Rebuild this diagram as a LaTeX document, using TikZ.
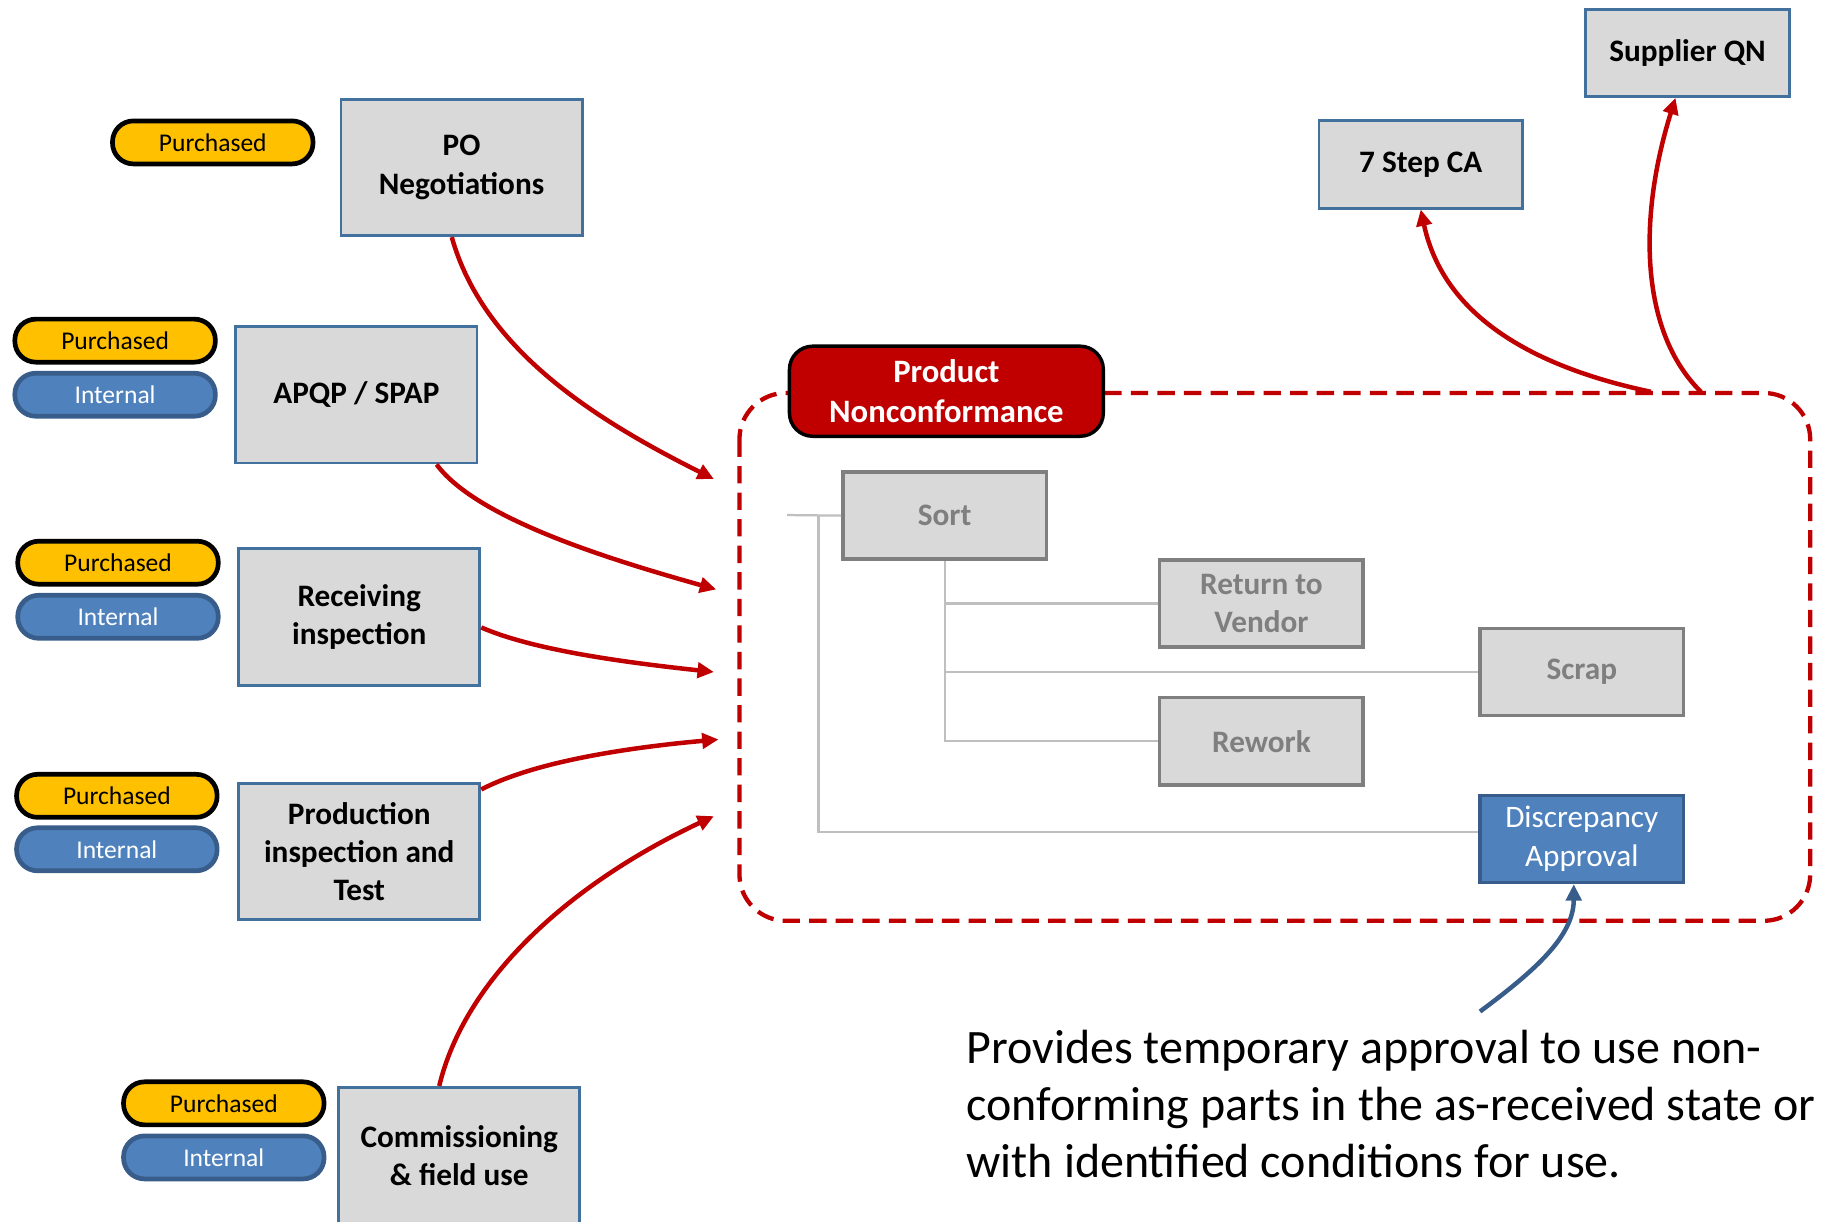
\documentclass[tikz,border=0pt]{standalone}
\usepackage{fontspec}
\setmainfont{Carlito}
\usetikzlibrary{arrows.meta}
\definecolor{boxgray}{HTML}{D9D9D9}
\definecolor{boxedge}{HTML}{41719C}
\definecolor{pillyellow}{HTML}{FFC000}
\definecolor{intblue}{HTML}{4F81BD}
\definecolor{intedge}{HTML}{385D8A}
\definecolor{ncred}{HTML}{C00000}
\definecolor{fadetext}{HTML}{7F7F7F}
\definecolor{fadeline}{HTML}{BFBFBF}

\begin{document}
\begin{tikzpicture}[x=0.02cm, y=-0.02cm,
  stage/.style={draw=boxedge, line width=1.4pt, fill=boxgray, align=center, inner sep=0pt,
    font=\fontsize{15.3}{18.8}\selectfont\bfseries, minimum width=4.15cm, minimum height=2.35cm},
  target/.style={stage, minimum width=3.5cm, minimum height=1.5cm},
  outcome/.style={draw=fadetext, line width=1.7pt, fill=boxgray, text=fadetext, align=center, inner sep=0pt,
    font=\fontsize{15.3}{18.8}\selectfont\bfseries, minimum width=3.5cm, minimum height=1.5cm},
  approval/.style={outcome, draw=intedge, fill=intblue, text=white, font=\fontsize{15.3}{18.8}\selectfont},
  pill/.style={rounded corners=0.36cm, line width=2.3pt, inner sep=0pt, minimum width=3.45cm, minimum height=0.74cm,
    font=\fontsize{12.5}{15}\selectfont},
  bought/.style={pill, draw=black, fill=pillyellow},
  inhouse/.style={pill, draw=intedge, fill=intblue, text=white},
  link/.style={draw=fadeline, line width=1.1pt},
  feed/.style={draw=ncred, line width=2.2pt, -{Triangle[length=8pt,width=7.5pt]}},
  ncbox/.style={draw=ncred, line width=2.1pt, dash pattern=on 8.5pt off 4.5pt, rounded corners=0.8cm}]
\useasboundingbox (0,0) rectangle (1568,1051);

% sources on the left
\node[stage] (po) at (397,144) {PO\\Negotiations};
\node[stage] (apqp) at (306.5,339.5) {APQP / SPAP};
\node[stage] (recv) at (309,530.5) {Receiving\\inspection};
\node[stage] (prod) at (309,732.5) {Production\\inspection and\\Test};
\node[stage] (comm) at (395,994) {Commissioning\\\& field use};

\node[bought] (po-p) at (183,122.5) {Purchased};
\node[bought] (apqp-p) at (99,293) {Purchased};
\node[inhouse] (apqp-i) at (99,339.5) {Internal};
\node[bought] (recv-p) at (101.5,484) {Purchased};
\node[inhouse] (recv-i) at (101.5,530.5) {Internal};
\node[bought] (prod-p) at (100.5,684.5) {Purchased};
\node[inhouse] (prod-i) at (100.5,730.5) {Internal};
\node[bought] (comm-p) at (192.5,949) {Purchased};
\node[inhouse] (comm-i) at (192.5,995.5) {Internal};

% nonconformance area
\draw[ncbox] (636,338) rectangle (1557,792);
\node[draw=black, line width=1.7pt, fill=ncred, text=white, rounded corners=0.4cm, align=center, inner sep=0pt,
  font=\fontsize{16}{19.9}\selectfont\bfseries, minimum width=5.4cm, minimum height=1.55cm]
  (pnc) at (814,336.5) {Product\\Nonconformance};

\node[outcome] (sort) at (812.5,443.5) {Sort};
\node[outcome] (rtv) at (1085,519) {Return to\\Vendor};
\node[outcome] (scrap) at (1360.5,578) {Scrap};
\node[outcome] (rework) at (1085,637.5) {Rework};
\node[approval] (disc) at (1360.5,721.5) {Discrepancy\\Approval};

\coordinate (stub) at (677,443);
\coordinate (trunk) at (704,443);
\draw[link] (stub) -- (sort.west);
\draw[link] (trunk) |- ([yshift=0.12cm]disc.west);
\draw[link] (sort.south) |- (rtv.west);
\draw[link] (sort.south) |- (scrap.west);
\draw[link] (sort.south) |- (rework.west);

% feeds into the area
\coordinate (in1) at (614,412);
\coordinate (in2) at (616,507);
\coordinate (in3) at (614,578);
\coordinate (in4) at (618,636);
\coordinate (in5) at (614,702);
\draw[feed] (po.-98) .. controls +(27,96) and +(-104,-52) .. (in1);
\draw[feed] (apqp.-41) .. controls +(34,46) and +(-96,-27) .. (in2);
\draw[feed] (recv.-5) .. controls +(46,20) and +(-74,-8) .. (in3);
\draw[feed] (prod.27) .. controls +(46,-24) and +(-78,7) .. (in4);
\draw[feed] (comm.106) .. controls +(22,-92) and +(-124,58) .. (in5);

% outputs
\node[target] (step7) at (1222,141.5) {7 Step CA};
\node[target] (sqn) at (1451.5,45.5) {Supplier QN};
\coordinate (out1) at (1420,337);
\coordinate (out2) at (1463,337);
\draw[feed] (out1) .. controls +(-90,-19) and +(21,98) .. (step7.south);
\draw[feed] (out2) .. controls +(-53,-52) and +(-32,102) .. (sqn.-105);

% note
\node[anchor=north west, align=left, inner sep=0pt, font=\fontsize{23.5}{27.8}\selectfont] (note) at (831,886)
  {Provides temporary approval to use non-\\conforming parts in the as-received state or\\with identified conditions for use.};
\coordinate (tail) at (1273,870);
\draw[draw=intedge, line width=2.2pt, -{Triangle[length=8pt,width=7.5pt]}] (tail) .. controls +(47,-35) and +(0,45) .. (disc.-100);
\end{tikzpicture}
\end{document}
